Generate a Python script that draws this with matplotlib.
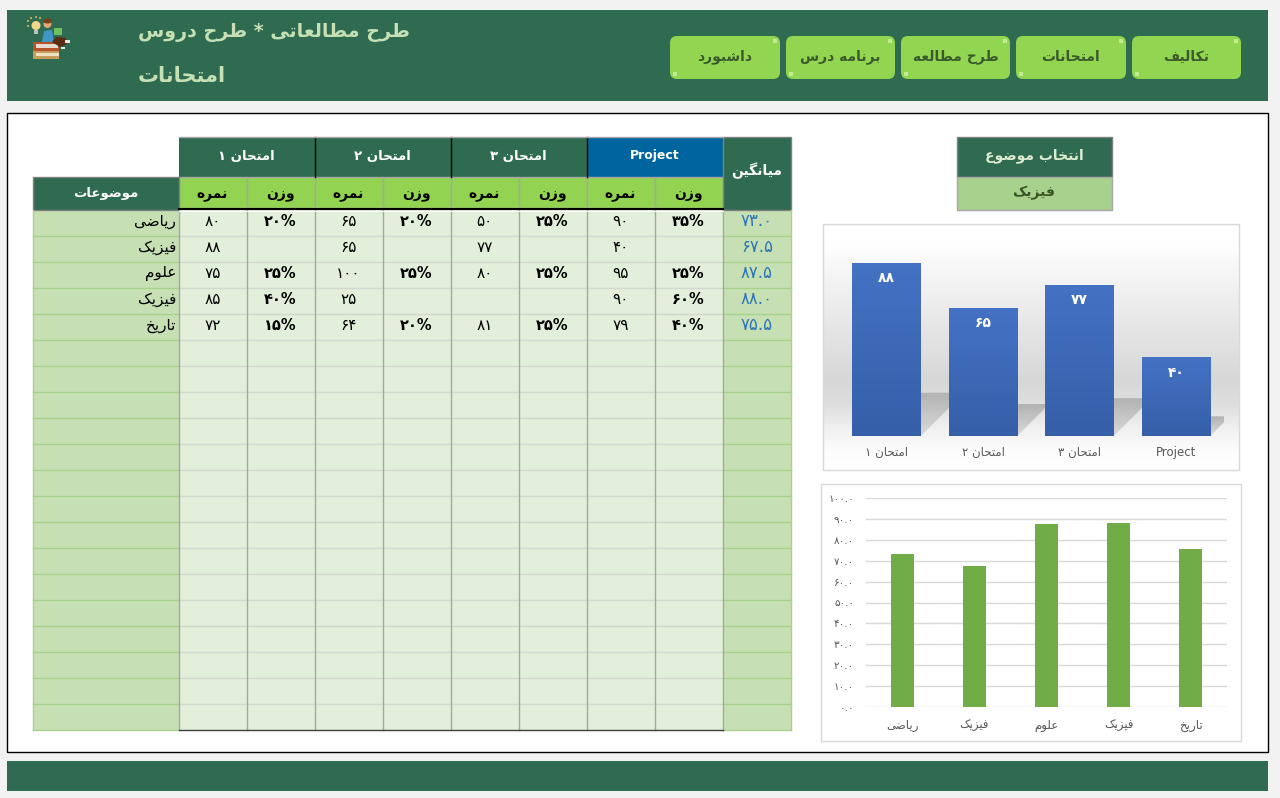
import matplotlib
matplotlib.use("Agg")
import matplotlib.pyplot as plt
import numpy as np
from matplotlib.colors import LinearSegmentedColormap
from matplotlib.patches import Rectangle, FancyBboxPatch, Polygon, Circle, Ellipse

plt.rcParams['font.family'] = ['DejaVu Sans']

# data read from the sheet
subjects = ['ریاضی', 'فیزیک', 'علوم', 'فیزیک', 'تاریخ']
exam_names = ['امتحان ۱', 'امتحان ۲', 'امتحان ۳', 'Project']
scores = [[80, 65, 50, 90],
          [88, 65, 77, 40],
          [75, 100, 80, 95],
          [85, 25, None, 90],
          [72, 64, 81, 79]]
weights = [[20, 20, 25, 35],
           [None, None, None, None],
           [25, 25, 25, 25],
           [40, None, None, 60],
           [15, 20, 25, 40]]
averages = [73.0, 67.5, 87.5, 88.0, 75.5]
selected_scores = [88, 65, 77, 40]
y_ticks = [0, 10, 20, 30, 40, 50, 60, 70, 80, 90, 100]
buttons = ['داشبورد', 'برنامه درس', 'طرح مطالعه', 'امتحانات', 'تکالیف']

W, H = 1280, 798
DARK = '#2F6B51'
LIME = '#92D351'
BODY = '#E2EFDA'
SIDE = '#C6E0B4'
GRAY = '#A6A6A6'

# matplotlib does no arabic shaping, so pick the presentation forms by hand
FORMS = {
    'ا': (0xFE8D, 0xFE8E, None, None), 'ب': (0xFE8F, 0xFE90, 0xFE91, 0xFE92),
    'پ': (0xFB56, 0xFB57, 0xFB58, 0xFB59), 'ت': (0xFE95, 0xFE96, 0xFE97, 0xFE98),
    'ج': (0xFE9D, 0xFE9E, 0xFE9F, 0xFEA0), 'چ': (0xFB7A, 0xFB7B, 0xFB7C, 0xFB7D),
    'ح': (0xFEA1, 0xFEA2, 0xFEA3, 0xFEA4), 'خ': (0xFEA5, 0xFEA6, 0xFEA7, 0xFEA8),
    'د': (0xFEA9, 0xFEAA, None, None), 'ر': (0xFEAD, 0xFEAE, None, None),
    'ز': (0xFEAF, 0xFEB0, None, None), 'س': (0xFEB1, 0xFEB2, 0xFEB3, 0xFEB4),
    'ش': (0xFEB5, 0xFEB6, 0xFEB7, 0xFEB8), 'ض': (0xFEBD, 0xFEBE, 0xFEBF, 0xFEC0),
    'ط': (0xFEC1, 0xFEC2, 0xFEC3, 0xFEC4), 'ع': (0xFEC9, 0xFECA, 0xFECB, 0xFECC),
    'ف': (0xFED1, 0xFED2, 0xFED3, 0xFED4), 'ک': (0xFB8E, 0xFB8F, 0xFB90, 0xFB91),
    'گ': (0xFB92, 0xFB93, 0xFB94, 0xFB95), 'ل': (0xFEDD, 0xFEDE, 0xFEDF, 0xFEE0),
    'م': (0xFEE1, 0xFEE2, 0xFEE3, 0xFEE4), 'ن': (0xFEE5, 0xFEE6, 0xFEE7, 0xFEE8),
    'و': (0xFEED, 0xFEEE, None, None), 'ه': (0xFEE9, 0xFEEA, 0xFEEB, 0xFEEC),
    'ی': (0xFBFC, 0xFBFD, 0xFBFE, 0xFBFF),
}


def rtl(s):
    if not any(c in FORMS for c in s):
        return s
    out = []
    for i, c in enumerate(s):
        if c not in FORMS:
            out.append(c)
            continue
        before = s[i - 1] if i > 0 else ''
        after = s[i + 1] if i + 1 < len(s) else ''
        join_prev = before in FORMS and FORMS[before][2] is not None
        join_next = after in FORMS and FORMS[c][2] is not None
        if join_prev and join_next:
            out.append(chr(FORMS[c][3]))
        elif join_prev:
            out.append(chr(FORMS[c][1]))
        elif join_next:
            out.append(chr(FORMS[c][2]))
        else:
            out.append(chr(FORMS[c][0]))
    return ''.join(reversed(out))


def fa(value):
    return str(value).translate(str.maketrans('0123456789', '۰۱۲۳۴۵۶۷۸۹'))


def px_axes(x0, y0, x1, y1):
    ax = fig.add_axes([x0 / W, 1 - y1 / H, (x1 - x0) / W, (y1 - y0) / H])
    ax.patch.set_alpha(0)
    return ax


def gradient_fill(ax, patch, extent, top, bottom):
    cmap = LinearSegmentedColormap.from_list('g', [top, bottom])
    ramp = np.linspace(0, 1, 128).reshape(-1, 1)
    im = ax.imshow(ramp, extent=extent, aspect='auto', cmap=cmap, zorder=patch.get_zorder())
    im.set_clip_path(patch)
    patch.set_facecolor('none')


fig = plt.figure(figsize=(W / 100, H / 100), dpi=100, facecolor='#F2F2F2')
bg = fig.add_axes([0, 0, 1, 1])
bg.set_axis_off()


def box(x0, y0, x1, y1, fc, ec='none', lw=0, z=1):
    bg.add_patch(Rectangle((x0, y0), x1 - x0, y1 - y0, facecolor=fc, edgecolor=ec, linewidth=lw, zorder=z))


def label(x, y, s, size=10, color='black', weight='normal', ha='center'):
    bg.text(x, y, rtl(s), fontsize=size, color=color, fontweight=weight, ha=ha, va='center', zorder=6)


# gradient behind the top chart, done first because imshow touches the limits
stops_y = [224, 245, 263, 330, 380, 405, 430, 450, 471]
stops_v = [1.0, 0.995, 0.97, 0.895, 0.84, 0.87, 0.945, 0.985, 1.0]
ramp = np.interp(np.arange(224, 471), stops_y, stops_v).reshape(-1, 1)
bg.imshow(ramp, extent=(823, 1240, 471, 224), aspect='auto', cmap='gray', vmin=0, vmax=1, zorder=2)
bg.set_xlim(0, W)
bg.set_ylim(H, 0)

# banners and page frame
box(7, 10, 1268, 101, DARK)
box(7, 761, 1268, 791, DARK)
box(7, 113, 1268, 752, 'white', 'black', 1)
bg.add_patch(Rectangle((823, 224), 416, 246, facecolor='none', edgecolor='#D9D9D9', linewidth=1, zorder=3))
box(820.5, 483.5, 1241, 741, 'white', '#D9D9D9', 1, 2)

label(138, 33, 'طرح مطالعاتی * طرح دروس', 13.7, SIDE, 'bold', 'left')
label(138, 76, 'امتحانات', 15, SIDE, 'bold', 'left')

# small books and bulb logo
box(33, 51, 59, 59, '#C89B5A')
box(36, 53, 59, 56, '#EFE3C6')
box(33, 42, 59, 51, '#B5532B')
box(36, 44, 58, 48, '#E4DCCF')
bg.add_patch(Polygon([[42, 42], [44, 31], [52, 30], [54, 42]], closed=True, facecolor='#3F96C8', zorder=3))
bg.add_patch(Circle((47.5, 24), 4, facecolor='#E2A878', zorder=3))
bg.add_patch(Ellipse((47.5, 21), 9, 5, facecolor='#7A3E1A', zorder=3))
bg.add_patch(Polygon([[52, 42], [56, 37], [66, 38], [67, 44], [60, 47]], closed=True, facecolor='#5B2D12', zorder=3))
box(54, 28, 62, 35, '#6FBF5E', z=4)
box(65, 40, 70, 43, '#E6E6E6', z=4)
box(61, 47, 65, 49, '#E6E6E6', z=4)
bg.add_patch(Circle((36, 25.5), 4.5, facecolor='#F1D58A', zorder=3))
box(34, 30, 38, 34, '#BFBFBF')
for rx, ry in [(28, 21), (31, 18), (36, 17), (40, 18), (28, 26)]:
    bg.add_patch(Circle((rx, ry), 1, facecolor='#D9B85A', zorder=3))

# nav buttons
button_x = [(670, 780), (786, 895), (901, 1010), (1016, 1126), (1132, 1241)]
for (x0, x1), name in zip(button_x, buttons):
    bg.add_patch(FancyBboxPatch((x0, 36), x1 - x0, 43, boxstyle='round,pad=0,rounding_size=7',
                                facecolor='#92D550', edgecolor='none', zorder=3))
    box(x1 - 7, 39, x1 - 3, 43, '#C4EB94', z=4)
    box(x0 + 3, 72, x0 + 7, 76, '#C4EB94', z=4)
    label((x0 + x1) / 2, 57, name, 10, '#3B5A2B', 'bold')

# table grid
col_x = [178.5 + 68 * i for i in range(9)]
avg_x0, avg_x1 = 722.5, 790.5
sub_x0 = 33
row_h = 26
top_y = 209.5
n_rows = 20
bottom_y = top_y + n_rows * row_h

box(col_x[0], top_y, col_x[-1], bottom_y, BODY)
box(sub_x0, top_y, col_x[0], bottom_y, SIDE)
box(avg_x0, top_y, avg_x1, bottom_y, SIDE)
for r in range(1, n_rows):
    y = top_y + r * row_h
    bg.plot([col_x[0], col_x[-1]], [y, y], color='#D2D9CE', lw=1, zorder=2)
    bg.plot([sub_x0, col_x[0]], [y, y], color='#A9D18E', lw=1, zorder=2)
    bg.plot([avg_x0, avg_x1], [y, y], color='#A9D18E', lw=1, zorder=2)
for x in col_x:
    bg.plot([x, x], [top_y, bottom_y], color=GRAY, lw=1, zorder=3)
bg.plot([sub_x0, col_x[0]], [bottom_y, bottom_y], color='#A9D18E', lw=1, zorder=3)
bg.plot([avg_x0, avg_x1], [bottom_y, bottom_y], color='#A9D18E', lw=1, zorder=3)
bg.plot([avg_x1, avg_x1], [top_y, bottom_y], color='#A9D18E', lw=1, zorder=3)
bg.plot([sub_x0, sub_x0], [top_y, bottom_y], color='#A9D18E', lw=1, zorder=3)
bg.plot([col_x[0], col_x[-1]], [bottom_y, bottom_y], color='#404040', lw=1, zorder=4)

# table headers, exams laid out left to right as they appear on the sheet
for i in range(4):
    x0, x1 = col_x[2 * i], col_x[2 * i + 2]
    is_project = exam_names[i] == 'Project'
    box(x0, 136.5, x1, 176.5, '#00659F' if is_project else DARK)
    label((x0 + x1) / 2, 155 if is_project else 157, exam_names[i], 9 if is_project else 9.5, 'white', 'bold')
    for j, sub in enumerate(['نمره', 'وزن']):
        xa, xb = col_x[2 * i + j], col_x[2 * i + j + 1]
        box(xa, 176.5, xb, 208, LIME, GRAY, 1, 2)
        label((xa + xb) / 2, 195, sub, 10, 'black', 'bold')
for x in col_x[2:8:2]:
    bg.plot([x, x], [136.5, 176.5], color='black', lw=1, zorder=3)
bg.plot([col_x[0], col_x[-1]], [136.5, 136.5], color=GRAY, lw=1, zorder=3)
bg.plot([col_x[0], col_x[-1]], [208.5, 208.5], color='black', lw=1.5, zorder=4)
bg.plot([col_x[0], col_x[-1]], [210.6, 210.6], color='white', lw=0.8, zorder=4)
box(sub_x0, 176.5, col_x[0], 209.5, DARK, '#808080', 1, 2)
label(106, 194, 'موضوعات', 9.5, 'white', 'bold')
box(avg_x0, 136.5, avg_x1, 209.5, DARK, '#808080', 1, 2)
label(757, 171, 'میانگین', 10, 'white', 'bold')

# table values
for r, subject in enumerate(subjects):
    y = top_y + r * row_h + row_h / 2 - 1
    label(176, y, subject, 11, 'black', 'normal', 'right')
    for i in range(4):
        if scores[r][i] is not None:
            label((col_x[2 * i] + col_x[2 * i + 1]) / 2, y, fa(scores[r][i]), 11)
        if weights[r][i] is not None:
            label((col_x[2 * i + 1] + col_x[2 * i + 2]) / 2, y, fa(weights[r][i]) + '%', 10.5, 'black', 'bold')
    label(757, y, fa(f'{averages[r]:.1f}'), 12, '#2E75B6')

# subject picker
box(956.5, 136.5, 1112, 176.5, DARK, '#808080', 1, 2)
box(956.5, 176.5, 1112, 209.5, '#A9D18E', '#A6A6A6', 1, 2)
label(1034, 156, 'انتخاب موضوع', 10, '#DDEBD0', 'bold')
label(1034, 193, 'فیزیک', 10, '#375623', 'bold')

# top chart
ax1 = px_axes(838.25, 239.4, 1224.25, 436)
x_pos = np.arange(len(selected_scores))
bar_w = 0.71
px_x = 96.5
px_y = 1.966
for x, v in zip(x_pos, selected_scores):
    # perspective shadow, a quarter of the axis scale and sheared to the right
    h = v * 0.25
    shift = h * px_y / px_x
    poly = Polygon([[x - bar_w / 2, 0], [x - bar_w / 2 + shift, h], [x + bar_w / 2 + shift, h], [x + bar_w / 2, 0]],
                   closed=True, zorder=1, linewidth=0)
    ax1.add_patch(poly)
    gradient_fill(ax1, poly, (x - bar_w / 2, x + bar_w / 2 + shift, 0, h), '#B2B2B2', '#DADADA')
bars1 = ax1.bar(x_pos, selected_scores, bar_w, zorder=2, linewidth=0)
for bar, v in zip(bars1, selected_scores):
    gradient_fill(ax1, bar, (bar.get_x(), bar.get_x() + bar_w, 0, v), '#4472C4', '#355FA8')
    ax1.annotate(fa(v), (bar.get_x() + bar_w / 2, v), xytext=(0, -11), textcoords='offset points',
                 ha='center', va='center', color='white', fontsize=10, fontweight='bold', zorder=5)
ax1.set_xlim(-0.5, 3.5)
ax1.set_ylim(0, 100)
ax1.set_yticks([])
ax1.set_xticks(x_pos, [rtl(n) for n in exam_names], fontsize=8.5, color='#595959')
ax1.tick_params(axis='x', length=0, pad=7)
for s in ax1.spines.values():
    s.set_visible(False)

# bottom chart
ax2 = px_axes(866, 498, 1227, 707)
x2 = np.arange(len(averages))
ax2.bar(x2, averages, 0.32, color='#70AD47', zorder=3)
ax2.set_xlim(-0.5, 4.5)
ax2.set_ylim(0, 100)
ax2.set_yticks(y_ticks, [fa(f'{t:.1f}') for t in y_ticks], fontsize=7.5, color='#595959')
ax2.set_xticks(x2, [rtl(s) for s in subjects], fontsize=8.5, color='#595959')
ax2.tick_params(axis='both', length=0)
ax2.tick_params(axis='x', pad=9)
ax2.tick_params(axis='y', pad=8.5)
ax2.grid(axis='y', color='#D9D9D9', lw=1, zorder=0)
ax2.set_axisbelow(True)
for s in ax2.spines.values():
    s.set_visible(False)

fig.savefig('out.png', dpi=100)
